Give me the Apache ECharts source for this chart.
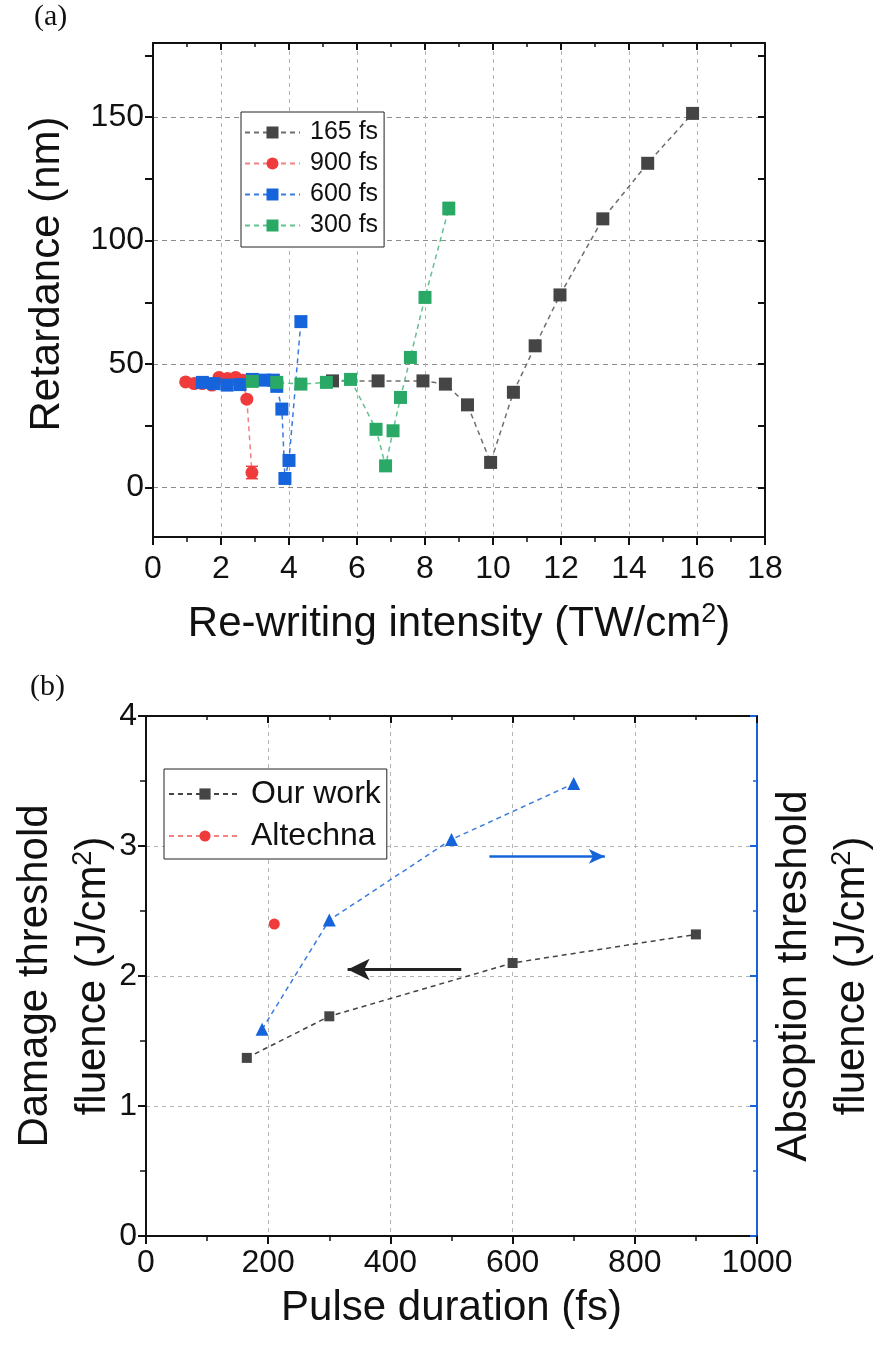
<!DOCTYPE html>
<html>
<head>
<meta charset="utf-8">
<script src="https://cdn.jsdelivr.net/npm/echarts@6/dist/echarts.min.js"></script>
<style>
  html, body { margin: 0; padding: 0; background: #fff; }
  #chart { width: 881px; height: 1345px; }
</style>
</head>
<body>
<div id="chart"></div>
<script>
// (a) retardance vs re-writing intensity
var int165 = [5.28, 6.62, 7.94, 8.6, 9.25, 9.93, 10.6, 11.24, 11.97, 13.23, 14.55, 15.87];
var ret165 = [43.2, 43.2, 43.2, 41.9, 33.5, 10.2, 38.6, 57.4, 78, 108.8, 131.3, 151.5];
var int900 = [0.96, 1.21, 1.45, 1.73, 1.94, 2.19, 2.43, 2.64, 2.76, 2.91];
var ret900 = [42.8, 42.1, 42.1, 41.5, 44.6, 44.2, 44.6, 43.5, 35.8, 6.1];
var int600 = [1.45, 1.8, 2.18, 2.56, 2.92, 3.29, 3.54, 3.64, 3.79, 3.88, 4.0, 4.35];
var ret600 = [42.6, 42.1, 41.5, 41.7, 43.8, 43.5, 43.5, 41, 31.8, 3.7, 11, 67.2];
var int300 = [2.92, 3.64, 4.35, 5.1, 5.81, 6.56, 6.84, 7.06, 7.28, 7.57, 8.0, 8.7];
var ret300 = [43, 42.6, 41.9, 42.6, 43.8, 23.6, 8.8, 23, 36.5, 52.7, 77, 113];
// error bars: [x, low, high]
var errA = [[2.91, 3.6, 8.6], [8.7, 110.5, 115.5]];
var retLabels = [0, 50, 100, 150];
var retTicks = [0, 25, 50, 75, 100, 125, 150, 175];

// (b) threshold fluence vs pulse duration
var pulseOur = [165, 300, 600, 900];
var damageOur = [1.37, 1.69, 2.1, 2.32];
var pulseAlt = [210];
var damageAlt = [2.4];
var pulseAbs = [190, 300, 500, 700];
var absFluence = [1.59, 2.43, 3.05, 3.48];
var arrowLeft = [[516, 2.05], [330, 2.05]];
var arrowRight = [[562, 2.92], [751, 2.92]];

var FONT = 'Liberation Sans, Arial, sans-serif';
var C_BLACK = '#454545', C_RED = '#ef3b3b', C_BLUE = '#1664db', C_GREEN = '#2aa865';

function zip(xs, ys) {
    return xs.map(function (x, i) { return [x, ys[i]]; });
}

function lineSeries(name, xs, ys, color, symbol, size, xi, yi, lineColor) {
    return {
        name: name,
        type: 'line',
        xAxisIndex: xi,
        yAxisIndex: yi,
        data: zip(xs, ys),
        symbol: symbol,
        symbolSize: size,
        itemStyle: { color: color },
        lineStyle: { color: lineColor || color, width: 1.5, type: [5, 4], opacity: 0.85 },
        emphasis: { disabled: true },
        z: 3
    };
}

function frameAxis(pos, gi, extra) {
    var a = {
        gridIndex: gi,
        position: pos,
        axisLine: { show: true, onZero: false, lineStyle: { color: '#111', width: 2 } },
        axisTick: { show: true, inside: true, length: 7, lineStyle: { color: '#111', width: 2 } },
        minorTick: { show: true, splitNumber: 2, length: 4, lineStyle: { color: '#111', width: 1.5 } },
        axisLabel: { show: false },
        splitLine: { show: false }
    };
    return Object.assign(a, extra);
}

var chart = echarts.init(document.getElementById('chart'));

var tickStyle = { color: '#111', width: 2 };
var labelStyle = { color: '#111', fontSize: 32, fontFamily: FONT, formatter: function (v) { return String(v); } };
var none = 'rgba(0,0,0,0)';

// axis titles with a real superscript 2
function nameStyle(extra) {
    return Object.assign({
        color: '#111', fontSize: 42, fontFamily: FONT, lineHeight: 58,
        rich: {
            n: { fontSize: 42, fontFamily: FONT, color: '#111', lineHeight: 58 },
            s: { fontSize: 27, fontFamily: FONT, color: '#111', lineHeight: 27, verticalAlign: 'top', padding: [6, 0, 0, 0] }
        }
    }, extra || {});
}

var option = {
    backgroundColor: '#fff',
    animation: false,
    textStyle: { fontFamily: FONT },
    graphic: [
        { type: 'text', left: 34, top: 2, style: { text: '(a)', fontSize: 30, fontFamily: 'Liberation Serif, serif', fill: '#111' } },
        { type: 'text', left: 30, top: 672, style: { text: '(b)', fontSize: 30, fontFamily: 'Liberation Serif, serif', fill: '#111' } }
    ],
    grid: [
        { left: 153, top: 43, width: 612, height: 494, containLabel: false, outerBoundsMode: 'none' },
        { left: 146, top: 716, width: 611, height: 520, containLabel: false, outerBoundsMode: 'none' }
    ],
    legend: [
        {
            data: ['165 fs', '900 fs', '600 fs', '300 fs'],
            orient: 'vertical', left: 241, top: 112,
            itemWidth: 55, itemHeight: 15, itemGap: 6,
            padding: [8, 6, 9, 3],
            borderColor: '#222', borderWidth: 1, backgroundColor: '#fff',
            textStyle: { fontSize: 25, color: '#111', fontFamily: FONT, padding: [0, 0, 0, 5] }
        },
        {
            data: ['Our work', 'Altechna'],
            orient: 'vertical', left: 164, top: 769,
            itemWidth: 72, itemHeight: 14, itemGap: 10,
            padding: [9, 6, 7, 4],
            borderColor: '#222', borderWidth: 1, backgroundColor: '#fff',
            textStyle: { fontSize: 32, color: '#111', fontFamily: FONT, padding: [0, 0, 0, 5] }
        }
    ],
    xAxis: [
        {
            type: 'value', gridIndex: 0, position: 'bottom', min: 0, max: 18, interval: 2,
            axisLine: { show: true, onZero: false, lineStyle: tickStyle },
            axisTick: { inside: false, length: 8, lineStyle: tickStyle },
            minorTick: { show: true, splitNumber: 2, length: 5, lineStyle: { color: '#111', width: 1.5 } },
            axisLabel: Object.assign({ margin: 16 }, labelStyle),
            splitLine: { show: true, lineStyle: { color: '#b5b5b5', type: [4, 4], width: 1 } },
            name: '{n|Re-writing intensity (TW/cm}{s|2}{n|)}', nameLocation: 'middle', nameGap: 58,
            nameTextStyle: nameStyle()
        },
        frameAxis('top', 0, { type: 'value', min: 0, max: 18, interval: 2 }),
        {
            type: 'value', gridIndex: 1, position: 'bottom', min: 0, max: 1000, interval: 200,
            axisLine: { show: true, onZero: false, lineStyle: tickStyle },
            axisTick: { inside: false, length: 8, lineStyle: tickStyle },
            minorTick: { show: true, splitNumber: 2, length: 5, lineStyle: { color: '#111', width: 1.5 } },
            axisLabel: Object.assign({ margin: 11 }, labelStyle),
            splitLine: { show: true, lineStyle: { color: '#b5b5b5', type: [4, 4], width: 1 } },
            name: 'Pulse duration (fs)', nameLocation: 'middle', nameGap: 38,
            nameTextStyle: nameStyle()
        },
        frameAxis('top', 1, { type: 'value', min: 0, max: 1000, interval: 200 })
    ],
    yAxis: [
        {
            type: 'value', gridIndex: 0, position: 'left', min: -20, max: 180, interval: 10,
            axisLine: { show: true, onZero: false, lineStyle: tickStyle },
            axisTick: { inside: false, length: 8, lineStyle: tickStyle, customValues: retTicks },
            axisLabel: Object.assign({ margin: 9, customValues: retLabels }, labelStyle),
            // split lines follow the custom ticks: keep every other one (0, 50, 100, 150)
            splitLine: { show: true, lineStyle: { color: ['#8c8c8c', none], type: [5, 4], width: 1 } },
            name: 'Retardance (nm)', nameLocation: 'middle', nameGap: 77, nameRotate: 90,
            nameTextStyle: nameStyle({ padding: [0, 0, 0, 32] })
        },
        frameAxis('right', 0, {
            type: 'value', min: -20, max: 180, interval: 10,
            axisTick: { show: true, inside: true, length: 7, lineStyle: tickStyle, customValues: retTicks },
            minorTick: { show: false }
        }),
        {
            type: 'value', gridIndex: 1, position: 'left', min: 0, max: 4, interval: 1,
            axisLine: { show: true, onZero: false, lineStyle: tickStyle },
            axisTick: { inside: false, length: 8, lineStyle: tickStyle },
            minorTick: { show: true, splitNumber: 2, length: 6, lineStyle: { color: '#111', width: 1.5 } },
            axisLabel: Object.assign({ margin: 9 }, labelStyle),
            splitLine: { show: true, lineStyle: { color: '#b5b5b5', type: [4, 4], width: 1 } },
            name: '{n|Damage threshold}\n{n|fluence (J/cm}{s|2}{n|)}', nameLocation: 'middle', nameGap: 24, nameRotate: 90,
            nameMoveOverlap: false,
            nameTextStyle: nameStyle()
        },
        {
            type: 'value', gridIndex: 1, position: 'right', min: 0, max: 4, interval: 1,
            axisLine: { show: true, onZero: false, lineStyle: { color: C_BLUE, width: 2 } },
            axisTick: { show: true, inside: true, length: 7, lineStyle: { color: C_BLUE, width: 2 } },
            minorTick: { show: true, splitNumber: 2, length: 4, lineStyle: { color: C_BLUE, width: 1.5 } },
            axisLabel: { show: false },
            splitLine: { show: false },
            name: '{n|Absoption threshold}\n{n|fluence (J/cm}{s|2}{n|)}', nameLocation: 'middle', nameGap: 8, nameRotate: 90,
            nameTextStyle: nameStyle()
        }
    ],
    series: [
        lineSeries('165 fs', int165, ret165, C_BLACK, 'rect', 13, 0, 0, '#555'),
        lineSeries('900 fs', int900, ret900, C_RED, 'circle', 13, 0, 0, '#f26a6a'),
        lineSeries('600 fs', int600, ret600, C_BLUE, 'rect', 13, 0, 0),
        lineSeries('300 fs', int300, ret300, C_GREEN, 'rect', 13, 0, 0, '#47b67a'),
        {
            name: 'err',
            type: 'custom',
            xAxisIndex: 0, yAxisIndex: 0,
            data: errA,
            z: 4,
            renderItem: function (params, api) {
                var lo = api.coord([api.value(0), api.value(1)]);
                var hi = api.coord([api.value(0), api.value(2)]);
                var col = params.dataIndex === 0 ? C_RED : C_GREEN;
                var st = { stroke: col, lineWidth: 1.5 };
                return {
                    type: 'group',
                    children: [
                        { type: 'line', shape: { x1: lo[0], y1: lo[1], x2: hi[0], y2: hi[1] }, style: st },
                        { type: 'line', shape: { x1: lo[0] - 6, y1: lo[1], x2: lo[0] + 6, y2: lo[1] }, style: st },
                        { type: 'line', shape: { x1: hi[0] - 6, y1: hi[1], x2: hi[0] + 6, y2: hi[1] }, style: st }
                    ]
                };
            }
        },
        Object.assign(lineSeries('Our work', pulseOur, damageOur, C_BLACK, 'rect', 10, 2, 2, '#222'), {
            markLine: {
                silent: true,
                symbol: ['none', 'arrow'],
                symbolSize: [16, 22],
                label: { show: false },
                lineStyle: { color: '#222', width: 3, type: 'solid' },
                data: [[{ coord: arrowLeft[0] }, { coord: arrowLeft[1] }]]
            }
        }),
        lineSeries('Altechna', pulseAlt, damageAlt, C_RED, 'circle', 11, 2, 2, '#f26a6a'),
        Object.assign(lineSeries('abs', pulseAbs, absFluence, C_BLUE, 'triangle', 13, 2, 3), {
            markLine: {
                silent: true,
                symbol: ['none', 'arrow'],
                symbolSize: [11, 16],
                label: { show: false },
                lineStyle: { color: C_BLUE, width: 2.5, type: 'solid' },
                data: [[{ coord: arrowRight[0] }, { coord: arrowRight[1] }]]
            }
        })
    ]
};

chart.setOption(option);
</script>
</body>
</html>
